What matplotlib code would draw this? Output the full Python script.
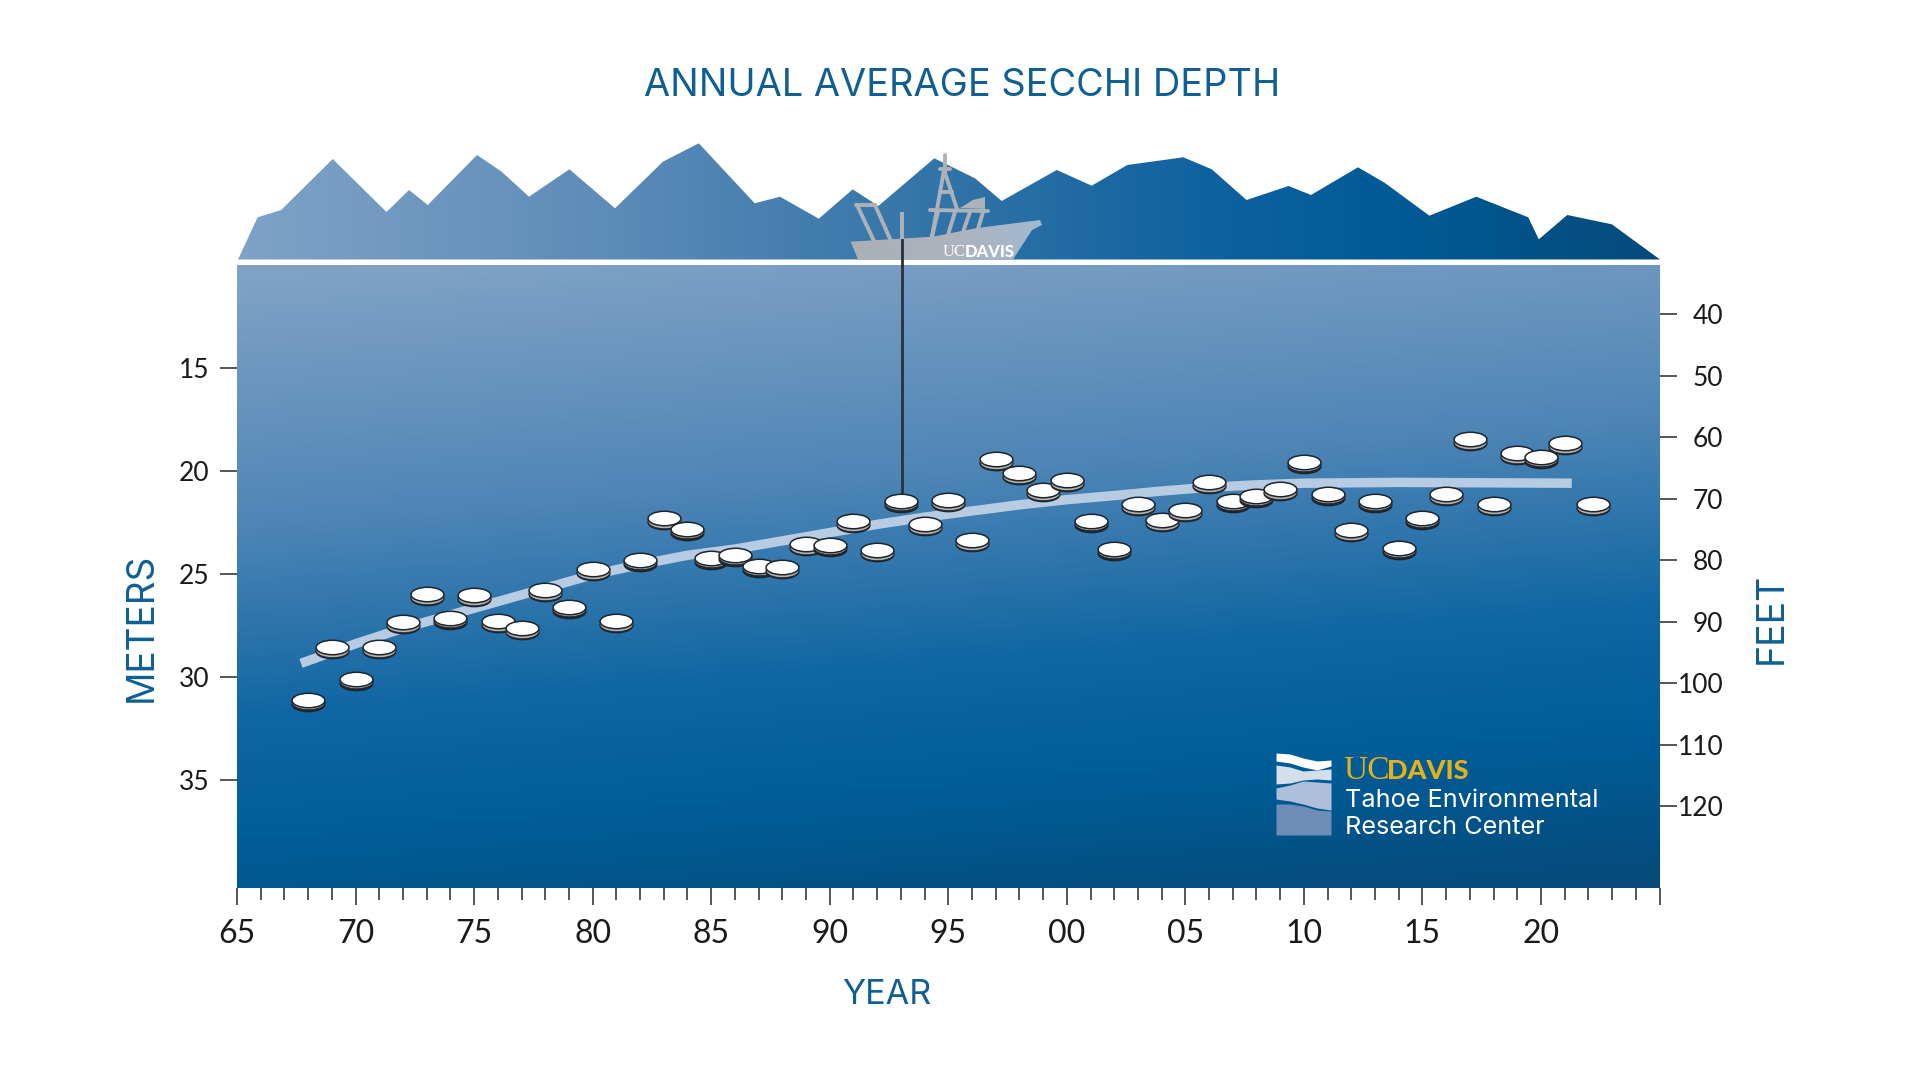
import numpy as np
import matplotlib
matplotlib.use("Agg")
import matplotlib.pyplot as plt
from matplotlib.colors import LinearSegmentedColormap
from matplotlib.patches import Polygon
from matplotlib.path import Path
from matplotlib.transforms import Affine2D, ScaledTranslation

plt.rcParams['font.family'] = ['Lato', 'DejaVu Sans']

# annual average Secchi depth
years = [1968, 1969, 1970, 1971, 1972, 1973, 1974, 1975, 1976, 1977, 1978, 1979,
         1980, 1981, 1982, 1983, 1984, 1985, 1986, 1987, 1988, 1989, 1990, 1991,
         1992, 1993, 1994, 1995, 1996, 1997, 1998, 1999, 2000, 2001, 2002, 2003,
         2004, 2005, 2006, 2007, 2008, 2009, 2010, 2011, 2012, 2013, 2014, 2015,
         2016, 2017, 2018, 2019, 2020, 2021, 2022.2]
depth_m = [31.19, 28.65, 30.17, 28.63, 27.43, 26.07, 27.21, 26.12, 27.37, 27.73,
           25.88, 26.68, 24.86, 27.37, 24.40, 22.39, 22.88, 24.29, 24.16, 24.69,
           24.76, 23.64, 23.67, 22.52, 23.93, 21.52, 22.67, 21.50, 23.46, 19.51,
           20.20, 21.02, 20.54, 22.50, 23.85, 21.70, 22.47, 21.99, 20.64, 21.53,
           21.29, 20.97, 19.63, 21.19, 22.96, 21.53, 23.82, 22.36, 21.21, 18.54,
           21.70, 19.23, 19.39, 18.74, 21.70]

trend_years = [1967.7, 1970, 1972, 1974, 1976, 1978, 1980, 1982, 1984, 1986, 1988, 1990,
               1992, 1994, 1996, 1998, 2000, 2002, 2004, 2006, 2008, 2010, 2014, 2021.3]
trend_m = [29.35, 28.40, 27.65, 27.00, 26.35, 25.70, 25.05, 24.55, 24.10, 23.80, 23.40, 23.00,
           22.60, 22.25, 21.95, 21.65, 21.40, 21.20, 20.98, 20.80, 20.68, 20.60, 20.56, 20.60]

major_years = [1965, 1970, 1975, 1980, 1985, 1990, 1995, 2000, 2005, 2010, 2015, 2020, 2025]
year_labels = ['65', '70', '75', '80', '85', '90', '95', '00', '05', '10', '15', '20', '']
meter_ticks = [15, 20, 25, 30, 35]
feet_ticks = [40, 50, 60, 70, 80, 90, 100, 110, 120]

# scenery in picture pixels
mountain_x = [238, 257.6, 281.2, 332.7, 386.5, 409, 427.8, 477, 501.6, 529, 569.4, 615, 662.9,
              698.8, 754.7, 780, 818.8, 852.7, 878.3, 934.3, 975, 1001.7, 1056.7, 1091.7,
              1127.3, 1183.3, 1211.8, 1246.5, 1288.6, 1311, 1358, 1384.5, 1429.4, 1476.3,
              1528.2, 1538.8, 1567.3, 1611.8, 1660]
mountain_y = [259.5, 217.3, 210, 159, 212, 190, 205, 155, 171.7, 196.7, 169.3, 208.3, 161.7,
              143.3, 203.3, 196.7, 218.7, 189.3, 206, 158.3, 178.3, 201, 170, 185.7,
              165, 157.3, 169.3, 200, 186, 195, 167.3, 182.7, 215.7, 196.7,
              217.3, 239.3, 215, 224.3, 259.5]
hull = [(850.7, 241.7), (933, 236.7), (977, 228), (1040, 220), (1042, 225), (1032, 230),
        (1013, 259.5), (858, 259.5)]
boat_lines = [
    [(856, 205), (875, 205)], [(857, 205), (874, 241)], [(875, 205), (891, 241)],
    [(932, 237), (944, 170), (957, 209)], [(945, 155), (945, 175)], [(940, 169), (950, 169)],
    [(940, 192), (952, 192)], [(930, 210), (988, 211)],
    [(938, 212), (932, 236)], [(955, 212), (948, 235)], [(970, 212), (963, 232)],
    [(983, 212), (978, 229)],
]
cabin_roof = [(960, 208), (973, 200), (985, 197), (985, 209)]
wave_x = [1276, 1290, 1303, 1317, 1331]
wave1_top = [753, 754, 758, 761, 760]
wave1_bot = [761, 763, 767, 770, 766]
wave2_top = [765, 767, 771, 770, 769]
wave2_bot = [784, 783, 780, 779, 780]
wave3_top = [788, 785, 781, 782, 783]
wave3_bot = [799, 801, 804, 808, 810]
wave4_top = [804, 804, 806, 810, 811]
wave4_bot = [835, 835, 835, 835, 835]

AX_LEFT, AX_RIGHT, AX_TOP, AX_BOTTOM = 237.0, 1659.5, 265.0, 887.5
text_blue = '#0f5f94'
tick_grey = '#555555'

fig = plt.figure(figsize=(19.2, 10.8), dpi=100, facecolor='white')
ax = fig.add_axes([AX_LEFT / 1920, 1 - AX_BOTTOM / 1080,
                   (AX_RIGHT - AX_LEFT) / 1920, (AX_BOTTOM - AX_TOP) / 1080])

# water background
water_cmap = LinearSegmentedColormap.from_list('water', [
    (0.0, '#82a3c7'), (0.35, '#4f86b6'), (0.62, '#0f66a3'), (0.8, '#005c97'), (1.0, '#064a79')])
xf, yf = np.meshgrid(np.linspace(0, 1, 400), np.linspace(0, 1, 300))
ax.imshow(yf * 0.85 + xf * 0.15, cmap=water_cmap, vmin=0, vmax=1, aspect='auto',
          extent=(1965, 2025, 40.24, 10.0), origin='upper', zorder=0)
ax.set_xlim(1965, 2025)
ax.set_ylim(40.24, 10.0)

# trend and sounding line
ax.plot(trend_years, trend_m, color='#b7cbe2', lw=6.8, solid_capstyle='butt', zorder=2)
ax.plot([1993.05, 1993.05], [10.0, depth_m[years.index(1993)]], color='#27323e', lw=2.0, zorder=3)

# Secchi discs, drawn as three stacked ellipses
disc = Path.unit_circle().transformed(Affine2D().scale(1, 0.44))
for i, (yr, d) in enumerate(zip(years, depth_m)):
    for dy, fc, lw, extra in [(-2.4, '#20282f', 0.9, 0), (-1.0, '#b5b2ac', 0.6, 0.1), (1.6, 'white', 1.1, 0.2)]:
        off = ScaledTranslation(0, dy / 100, fig.dpi_scale_trans)
        ax.scatter([yr], [d], marker=disc, s=560, facecolor=fc, edgecolor='#1c242c', linewidth=lw,
                   transform=ax.transData + off, zorder=4 + i * 0.01 + extra * 0.01)

ax.set_xticks(major_years)
ax.set_xticklabels(year_labels)
ax.set_xticks([y for y in range(1965, 2026) if y not in major_years], minor=True)
ax.tick_params(axis='x', which='major', length=12.5, width=1.4, color=tick_grey, pad=10.5,
               labelsize=23, labelcolor='#1a1a1a')
ax.tick_params(axis='x', which='minor', length=8.5, width=1.4, color=tick_grey)
ax.set_yticks(meter_ticks)
ax.tick_params(axis='y', length=12, width=1.4, color=tick_grey, pad=30, labelsize=19, labelcolor='#1a1a1a')
for lab in ax.get_yticklabels():
    lab.set_ha('left')
for sp in ax.spines.values():
    sp.set_visible(False)

ax2 = ax.twinx()
ax2.set_ylim(133.2, 32.0)
ax2.set_yticks(feet_ticks)
ax2.tick_params(axis='y', length=12, width=1.4, color=tick_grey, pad=34, labelsize=19, labelcolor='#1a1a1a')
for lab in ax2.get_yticklabels():
    lab.set_ha('right')
for sp in ax2.spines.values():
    sp.set_visible(False)

# overlay in picture pixels for scenery and labels
ov = fig.add_axes([0, 0, 1, 1], zorder=5)
ov.axis('off')
ov.patch.set_alpha(0)

mountain_cmap = LinearSegmentedColormap.from_list('mountain', [
    (0.0, '#7fa2c7'), (0.25, '#5e8db9'), (0.45, '#3a78aa'), (0.68, '#0f62a0'),
    (0.82, '#005a96'), (1.0, '#054b7b')])
mountain = Polygon(list(zip(mountain_x, mountain_y)), closed=True, transform=ov.transData, fc='none', ec='none')
ov.add_patch(mountain)
im = ov.imshow(np.linspace(0, 1, 500).reshape(1, -1), cmap=mountain_cmap, aspect='auto',
               extent=(238, 1660, 260, 140), zorder=1)
im.set_clip_path(mountain)

# boat
boat_grey = '#adb2b9'
hull_patch = Polygon(hull, closed=True, transform=ov.transData, fc='none', ec='none')
ov.add_patch(hull_patch)
hull_cmap = LinearSegmentedColormap.from_list('hull', ['#abafb6', '#aeb3bb', '#a2b8d0'])
hull_im = ov.imshow(np.linspace(0, 1, 100).reshape(1, -1), cmap=hull_cmap, aspect='auto',
                    extent=(850, 1042, 260, 220), zorder=2)
hull_im.set_clip_path(hull_patch)
ov.add_patch(Polygon(cabin_roof, closed=True, fc=boat_grey, ec='none', zorder=2))
for seg in boat_lines:
    xs, ys = zip(*seg)
    ov.plot(xs, ys, color=boat_grey, lw=2.8, solid_capstyle='round', zorder=2)
ov.plot([901.7, 901.7], [214, 240], color=boat_grey, lw=2.8, zorder=3)
ov.plot([901.7, 901.7], [240, 265], color='#27323e', lw=2.0, zorder=3)
ov.text(943, 252, 'UC', color='white', fontsize=12, family='Liberation Serif', va='center', ha='left', zorder=4)
ov.text(965, 252, 'DAVIS', color='white', fontsize=12, fontweight='black', va='center', ha='left', zorder=4)

# labels
ov.text(961.8, 86, 'ANNUAL AVERAGE SECCHI DEPTH', color=text_blue, fontsize=27.3, family='Inter',
        ha='center', va='center')
ov.text(886.5, 994.5, 'YEAR', color=text_blue, fontsize=24.6, family='Inter', ha='center', va='center')
ov.text(142, 627, 'METERS', color=text_blue, fontsize=26.7, family='Inter', rotation=90, ha='center', va='center')
ov.text(1772, 618, 'FEET', color=text_blue, fontsize=27, family='Inter', rotation=90, ha='center', va='center')

# TERC logo
ov.fill_between(wave_x, wave1_top, wave1_bot, color='white', lw=0, zorder=2)
ov.fill_between(wave_x, wave2_top, wave2_bot, color='#d5deeb', lw=0, zorder=2)
ov.fill_between(wave_x, wave3_top, wave3_bot, color='#aebfd9', lw=0, zorder=2)
ov.fill_between(wave_x, wave4_top, wave4_bot, color='#6d8db8', lw=0, zorder=2)
gold = '#e6b01a'
ov.text(1343, 771, 'UC', color=gold, fontsize=24, family='Liberation Serif', ha='left', va='center')
ov.text(1387, 771, 'DAVIS', color=gold, fontsize=19.5, fontweight='black', ha='left', va='center')
ov.text(1345, 800.5, 'Tahoe Environmental', color='white', fontsize=18.2, family='Inter', ha='left', va='center')
ov.text(1345, 828, 'Research Center', color='white', fontsize=18.2, family='Inter', ha='left', va='center')

ov.set_xlim(0, 1920)
ov.set_ylim(1080, 0)

fig.savefig('out.png', dpi=100)
